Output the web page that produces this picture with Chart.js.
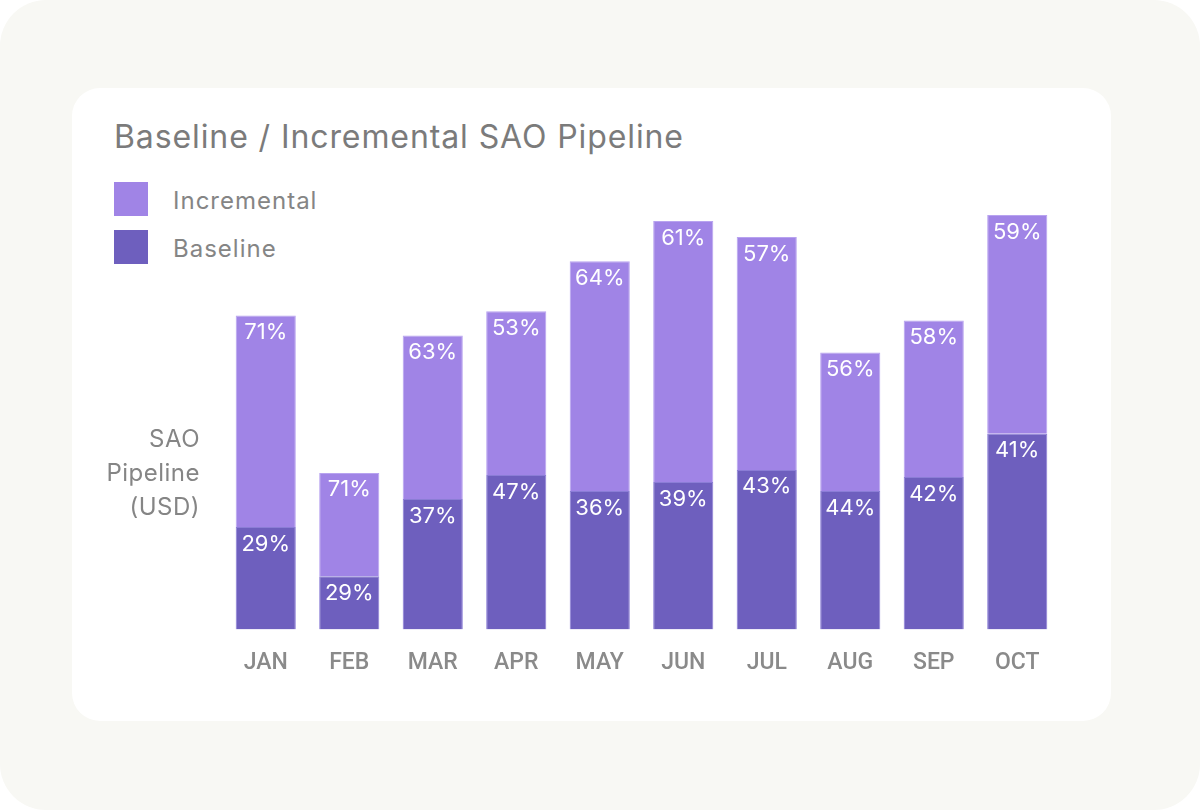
<!DOCTYPE html>
<html>
<head>
<meta charset="utf-8">
<script src="https://cdn.jsdelivr.net/npm/chart.js@4.4.1/dist/chart.umd.min.js"></script>
<style>
    html, body { margin: 0; padding: 0; background: #ffffff; }
    #frame {
        position: absolute; left: 0; top: 0; width: 1200px; height: 810px;
        background: #f8f8f4; border-radius: 46px;
    }
    #card {
        position: absolute; left: 72px; top: 88px; width: 1039px; height: 633px;
        background: #ffffff; border-radius: 28px;
    }
    #title {
        position: absolute; left: 114px; top: 117px; margin: 0;
        font-family: 'Inter', sans-serif; font-size: 32px; font-weight: 400;
        color: #7b7b7b; letter-spacing: 0.9px; white-space: nowrap; line-height: 40px;
    }
    .legend-item { position: absolute; left: 114px; height: 34px; }
    .legend-item .sw { position: absolute; left: 0; top: 0; width: 34px; height: 34px; }
    .legend-item .txt {
        position: absolute; left: 59px; top: 4px; white-space: nowrap; letter-spacing: 1px;
        font-family: 'Inter', sans-serif; font-size: 24px; color: #858585; line-height: 30px;
    }
    #chartWrap { position: absolute; left: 0; top: 0; width: 1200px; height: 810px; }
</style>
</head>
<body>
<div id="frame"></div>
<div id="card"></div>
<h1 id="title">Baseline / Incremental SAO Pipeline</h1>
<div class="legend-item" style="top:182px"><div class="sw" style="background:#a084e6"></div><div class="txt">Incremental</div></div>
<div class="legend-item" style="top:230px"><div class="sw" style="background:#6e5fbe"></div><div class="txt">Baseline</div></div>
<div id="chartWrap"><canvas id="chart" width="1200" height="810"></canvas></div>

<script>
// ── Data (bar heights, arbitrary units) ──────────────────────────
const months          = ['JAN', 'FEB', 'MAR', 'APR', 'MAY', 'JUN', 'JUL', 'AUG', 'SEP', 'OCT'];
const baselineValues  = [102, 53, 130, 154, 138, 147, 159, 138, 152, 195];
const incrementValues = [211, 103, 163, 163, 229, 260, 232, 138, 156, 218];
const baselinePct     = ['29%', '29%', '37%', '47%', '36%', '39%', '43%', '44%', '42%', '41%'];
const incrementPct    = ['71%', '71%', '63%', '53%', '64%', '61%', '57%', '56%', '58%', '59%'];
const yAxisTitle      = ['SAO', 'Pipeline', '(USD)'];

const BASE_COLOR = '#6e5fbe';
const INC_COLOR  = '#a084e6';

// ── Plugin: white % labels inside each segment + axis title ──────
const segmentLabels = {
    id: 'segmentLabels',
    afterDatasetsDraw(chart) {
        const ctx = chart.ctx;
        const pcts = [baselinePct, incrementPct];
        ctx.save();
        ctx.fillStyle = '#ffffff';
        ctx.font = '22px Inter, sans-serif';
        ctx.textAlign = 'center';
        ctx.textBaseline = 'middle';
        chart.data.datasets.forEach((ds, i) => {
            chart.getDatasetMeta(i).data.forEach((bar, j) => {
                ctx.fillText(pcts[i][j], bar.x, bar.y + 17);
            });
        });

        ctx.fillStyle = '#858585';
        ctx.font = '24px Inter, sans-serif';
        ctx.letterSpacing = '0.5px';
        ctx.textAlign = 'right';
        yAxisTitle.forEach((line, k) => ctx.fillText(line, 200, 440 + k * 34));
        ctx.restore();
    }
};

const ctx = document.getElementById('chart').getContext('2d');
new Chart(ctx, {
    type: 'bar',
    data: {
        labels: months,
        datasets: [
            { label: 'Baseline',    data: baselineValues,  backgroundColor: BASE_COLOR, borderColor: '#8b7dd6', borderWidth: 1, borderSkipped: 'bottom' },
            { label: 'Incremental', data: incrementValues, backgroundColor: INC_COLOR,  borderColor: '#b8a3f0', borderWidth: 1, borderSkipped: 'bottom' }
        ]
    },
    options: {
        responsive: false,
        animation: false,
        devicePixelRatio: 1,
        layout: { padding: { left: 224, right: 141, top: 200, bottom: 121 } },
        datasets: { bar: { barPercentage: 0.72, categoryPercentage: 1.0 } },
        plugins: { legend: { display: false }, tooltip: { enabled: false } },
        scales: {
            x: {
                stacked: true,
                grid: { display: false },
                border: { display: false },
                ticks: { color: '#8a8a8a', font: { family: 'Roboto', size: 23, weight: '500' }, padding: 12 }
            },
            y: { stacked: true, display: false, min: 0, max: 428 }
        }
    },
    plugins: [segmentLabels]
});
</script>
</body>
</html>
